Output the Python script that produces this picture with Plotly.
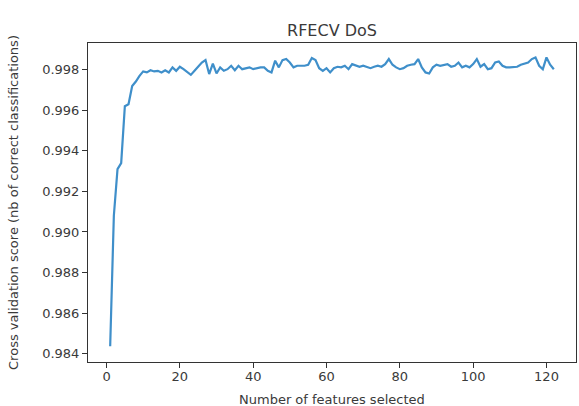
import plotly.graph_objects as go

n_features = list(range(1, 123))

cv_scores = [
    0.98436, 0.99080, 0.99310, 0.99340, 0.99620, 0.99630, 0.99720, 0.99742, 0.99770, 0.99792,
    0.99787, 0.99798, 0.99792, 0.99795, 0.99787, 0.99798, 0.99787, 0.99812, 0.99795, 0.99815,
    0.99803, 0.99787, 0.99775, 0.99795, 0.99815, 0.99836, 0.99848, 0.99779, 0.99831, 0.99782,
    0.99812, 0.99795, 0.99803, 0.99820, 0.99798, 0.99820, 0.99803, 0.99808, 0.99812, 0.99803,
    0.99808, 0.99812, 0.99812, 0.99795, 0.99787, 0.99845, 0.99812, 0.99848, 0.99853, 0.99836,
    0.99812, 0.99820, 0.99820, 0.99820, 0.99825, 0.99858, 0.99848, 0.99808, 0.99795, 0.99808,
    0.99787, 0.99808, 0.99815, 0.99812, 0.99820, 0.99803, 0.99828, 0.99820, 0.99815, 0.99820,
    0.99812, 0.99808, 0.99815, 0.99820, 0.99815, 0.99828, 0.99853, 0.99825, 0.99812, 0.99803,
    0.99808, 0.99820, 0.99825, 0.99828, 0.99853, 0.99812, 0.99787, 0.99782, 0.99812, 0.99825,
    0.99820, 0.99825, 0.99828, 0.99815, 0.99820, 0.99836, 0.99812, 0.99820, 0.99812, 0.99828,
    0.99853, 0.99815, 0.99828, 0.99803, 0.99808, 0.99836, 0.99841, 0.99820, 0.99812, 0.99812,
    0.99812, 0.99815, 0.99825, 0.99831, 0.99836, 0.99853, 0.99861, 0.99820, 0.99803, 0.99861,
    0.99825, 0.99803,
]

x_ticks = [0, 20, 40, 60, 80, 100, 120]
y_ticks = [0.984, 0.986, 0.988, 0.990, 0.992, 0.994, 0.996, 0.998]

title_text = "RFECV DoS"
x_label = "Number of features selected"
y_label = "Cross validation score (nb of correct classifications)"

FONT = "DejaVu Sans"
TXT = "#3a3a3a"
AX = "#333333"

PLOT_TOP, PLOT_BOTTOM = 43, 362

fig = go.Figure()
fig.add_trace(go.Scatter(
    x=n_features, y=cv_scores, mode="lines",
    line=dict(color="#3f8fca", width=2.2),
    hoverinfo="skip", showlegend=False,
))

fig.update_layout(
    width=579, height=406,
    margin=dict(l=88, r=3, t=PLOT_TOP, b=406 - PLOT_BOTTOM),
    paper_bgcolor="white", plot_bgcolor="white",
    font=dict(family=FONT, size=13, color=TXT),
    title=dict(text=title_text, x=(88 + 576) / 2 / 579, xanchor="center",
               y=1 - 30 / 406, yanchor="middle", yref="container",
               font=dict(family=FONT, size=16, color=TXT)),
)

fig.add_annotation(
    text=x_label, xref="paper", yref="paper", x=0.5,
    y=-(399 - PLOT_BOTTOM) / (PLOT_BOTTOM - PLOT_TOP), yanchor="middle",
    showarrow=False, font=dict(family=FONT, size=13, color=TXT),
)

fig.update_xaxes(
    range=[-5.05, 128.05], tickvals=x_ticks, ticktext=[str(v) for v in x_ticks],
    showgrid=False, zeroline=False, showline=True, mirror=True,
    linecolor=AX, linewidth=1, ticks="outside", ticklen=5, tickcolor=AX,
    ticklabelstandoff=-3,
    tickfont=dict(family=FONT, size=13, color=TXT),
)
fig.update_yaxes(
    range=[0.983586, 0.999322], tickvals=y_ticks, ticktext=[f"{v:.3f}" for v in y_ticks],
    showgrid=False, zeroline=False, showline=True, mirror=True,
    linecolor=AX, linewidth=1, ticks="outside", ticklen=5, tickcolor=AX,
    ticklabelstandoff=0,
    tickfont=dict(family=FONT, size=13, color=TXT),
    title=dict(text=y_label, font=dict(family=FONT, size=13, color=TXT), standoff=20),
)

fig.write_html(
    "out.html",
    config={"displayModeBar": False},
    post_script="document.body.style.margin='0';document.body.style.overflow='hidden';",
)
